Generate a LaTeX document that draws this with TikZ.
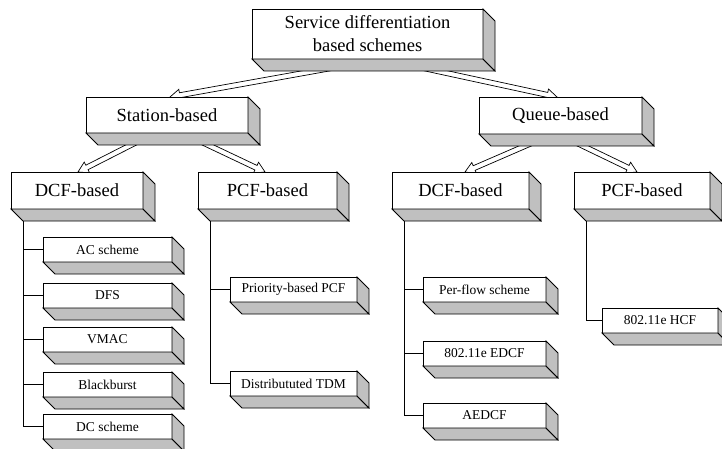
\documentclass[tikz,border=0pt]{standalone}
\usepackage{fontspec}
\setmainfont{Liberation Serif}
\usetikzlibrary{calc}
\pgfdeclarelayer{bg}
\pgfsetlayers{bg,main}
\definecolor{boxgray}{HTML}{C0C0C0}
\tikzset{
  face/.style={fill=boxgray, draw=black, line width=0.8pt, line join=miter},
  bigbox/.style={draw, fill=white, line width=0.8pt, inner sep=0pt, outer sep=0pt,
    anchor=north west, align=center, font=\fontsize{18.5}{23}\selectfont},
  smallbox/.style={draw, fill=white, line width=0.8pt, inner sep=0pt, outer sep=0pt,
    anchor=north west, font=\fontsize{13.5}{16}\selectfont},
  arrowline/.style={fill=white, draw=black, line width=0.7pt, line join=miter},
  conn/.style={draw=black, line width=0.8pt}
}
\newcommand\threed[1]{%
  \filldraw[face] (#1.south west) -- (#1.south east) -- ++(12,12) -- ($(#1.south west)+(12,12)$) -- cycle;
  \filldraw[face] (#1.north east) -- ++(12,12) -- ($(#1.south east)+(12,12)$) -- (#1.south east) -- cycle;
}
\newcommand\harrow[2]{%
  \path ($(#1)!-18pt!(#2)$) coordinate (hA) (#2) coordinate (hB);
  \path ($(hB)!10pt!(hA)$) coordinate (hC);
  \filldraw[arrowline] ($(hA)!2.5pt!90:(hB)$) -- ($(hC)!2.5pt!-90:(hA)$) -- ($(hC)!6pt!-90:(hA)$) -- (hB)
    -- ($(hC)!6pt!90:(hA)$) -- ($(hC)!2.5pt!90:(hA)$) -- ($(hA)!2.5pt!-90:(hB)$) -- cycle;
}
\begin{document}
\begin{tikzpicture}[x=1pt,y=-1pt]
\useasboundingbox (0,0) rectangle (722,449);
% level boxes
\node[bigbox, minimum width=231pt, minimum height=50pt] (top) at (252,9) {Service differentiation\\based schemes};
\node[bigbox, minimum width=162pt, minimum height=36pt] (st) at (86,97) {Station-based};
\node[bigbox, minimum width=163pt, minimum height=37pt] (qu) at (479,97) {Queue-based};
\node[bigbox, minimum width=132pt, minimum height=37pt] (dcfA) at (11,172) {DCF-based};
\node[bigbox, minimum width=139pt, minimum height=37pt] (pcfA) at (198,172) {PCF-based};
\node[bigbox, minimum width=137pt, minimum height=37pt] (dcfB) at (392,172) {DCF-based};
\node[bigbox, minimum width=136pt, minimum height=37pt] (pcfB) at (574,172) {PCF-based};
% small boxes
\node[smallbox, minimum width=129pt, minimum height=25pt] (ac) at (43,237) {AC scheme};
\node[smallbox, minimum width=129pt, minimum height=25pt] (dfs) at (43,283) {DFS};
\node[smallbox, minimum width=129pt, minimum height=25pt] (vmac) at (43,327) {VMAC};
\node[smallbox, minimum width=129pt, minimum height=25pt] (bb) at (43,372) {Blackburst};
\node[smallbox, minimum width=129pt, minimum height=25pt] (dc) at (43,414) {DC scheme};
\node[smallbox, minimum width=127pt, minimum height=25pt] (prio) at (230,277) {Priority-based PCF};
\node[smallbox, minimum width=127pt, minimum height=25pt] (dtdm) at (230,371) {Distribututed TDM};
\node[smallbox, minimum width=123pt, minimum height=25pt] (pf) at (423,277) {Per-flow scheme};
\node[smallbox, minimum width=123pt, minimum height=25pt] (edcf) at (423,341) {802.11e EDCF};
\node[smallbox, minimum width=123pt, minimum height=25pt] (aedcf) at (423,403) {AEDCF};
\node[smallbox, minimum width=116pt, minimum height=25pt] (hcf) at (602,308) {802.11e HCF};
% 3D faces
\foreach \n in {top,st,qu,dcfA,pcfA,dcfB,pcfB,ac,dfs,vmac,bb,dc,prio,dtdm,pf,edcf,aedcf,hcf}{\threed{\n}}
% arrow coordinates
\coordinate (s1) at ($(top.south west)+(63,12)$);
\coordinate (e1) at ($(st.north west)+(84,0)$);
\coordinate (s2) at ($(top.south west)+(185,12)$);
\coordinate (e2) at ($(qu.north west)+(78,0)$);
\coordinate (s3) at ($(st.south west)+(45,12)$);
\coordinate (e3) at ($(dcfA.north west)+(67,0)$);
\coordinate (s4) at ($(st.south west)+(122,12)$);
\coordinate (e4) at ($(pcfA.north west)+(67,0)$);
\coordinate (s5) at ($(qu.south west)+(46,12)$);
\coordinate (e5) at ($(dcfB.north west)+(73,0)$);
\coordinate (s6) at ($(qu.south west)+(104,12)$);
\coordinate (e6) at ($(pcfB.north west)+(63,0)$);
\begin{pgfonlayer}{bg}
\harrow{s1}{e1}
\harrow{s2}{e2}
\harrow{s3}{e3}
\harrow{s4}{e4}
\harrow{s5}{e5}
\harrow{s6}{e6}
\end{pgfonlayer}
% trunks
\coordinate (t1) at ($(dcfA.south west)+(12,12)$);
\coordinate (t2) at ($(pcfA.south west)+(12,12)$);
\coordinate (t3) at ($(dcfB.south west)+(12,12)$);
\coordinate (t4) at ($(pcfB.south west)+(12,12)$);
\draw[conn] (t1) |- (dc.west);
\foreach \n in {ac,dfs,vmac,bb}{\draw[conn] (\n.west) -- (\n.west -| t1);}
\draw[conn] (t2) |- (dtdm.west);
\draw[conn] (prio.west) -- (prio.west -| t2);
\draw[conn] (t3) |- (aedcf.west);
\foreach \n in {pf,edcf}{\draw[conn] (\n.west) -- (\n.west -| t3);}
\draw[conn] (t4) |- (hcf.west);
\end{tikzpicture}
\end{document}
